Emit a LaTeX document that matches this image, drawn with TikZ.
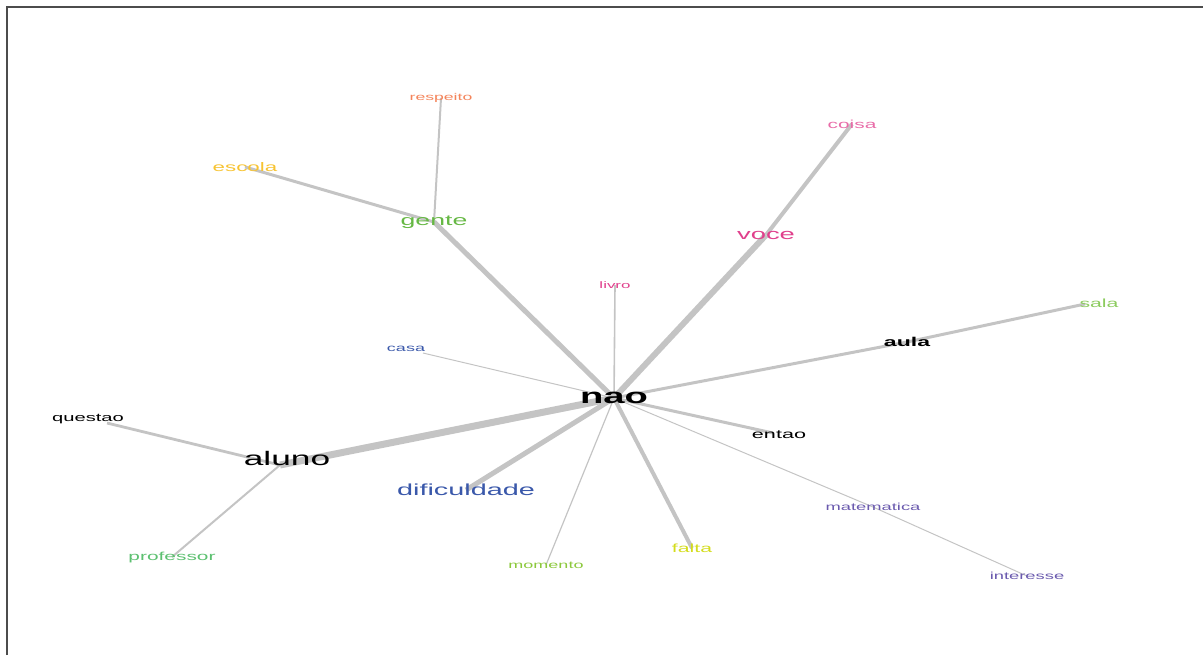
\documentclass[tikz,border=0pt]{standalone}
\usepackage{fontspec}
\setmainfont{Liberation Sans}
\usepackage{graphicx}
\usetikzlibrary{backgrounds}
\definecolor{edgegray}{HTML}{C4C4C4}
\definecolor{cOrange}{HTML}{F4845A}
\definecolor{cGold}{HTML}{F7C331}
\definecolor{cGreen}{HTML}{66B844}
\definecolor{cPink}{HTML}{E0408C}
\definecolor{cRose}{HTML}{E86CA8}
\definecolor{cLime}{HTML}{8CCB5E}
\definecolor{cBlue}{HTML}{3A58AA}
\definecolor{cPurple}{HTML}{6A5AAE}
\definecolor{cYellow}{HTML}{D4DC1C}
\definecolor{cOlive}{HTML}{8CC83C}
\definecolor{cMint}{HTML}{5CC070}
\newcommand{\wide}[1]{\scalebox{1.8}[1]{#1}}

\begin{document}
\begin{tikzpicture}[x=0.5pt,y=-0.5pt,every node/.style={inner sep=0pt},
  lbl/.style={font=\fontsize{#1}{#1}\selectfont},
  blbl/.style={font=\fontsize{#1}{#1}\selectfont\bfseries},
  edge/.style={draw=edgegray,line width=#1}]
\useasboundingbox (0,0) rectangle (1203,655);
\draw[line width=1pt,black!70] (7,655)--(7,7)--(1203,7);
\node[blbl=10.6] (nao) at (614,398) {\wide{nao}};
\node[lbl=4.7,text=cPink] (livro) at (615,285) {\wide{livro}};
\node[lbl=7.6,text=cPink] (voce) at (766,235) {\wide{voce}};
\node[lbl=5.8,text=cRose] (coisa) at (852,124) {\wide{coisa}};
\node[lbl=7.4,text=cGreen] (gente) at (434,222) {\wide{gente}};
\node[lbl=4.9,text=cOrange] (respeito) at (441,98) {\wide{respeito}};
\node[lbl=6.2,text=cGold] (escola) at (245,167) {\wide{escola}};
\node[lbl=5.9,text=cLime] (sala) at (1099,303) {\wide{sala}};
\node[blbl=6.4] (aula) at (907,342) {\wide{aula}};
\node[lbl=6] (entao) at (779,435) {\wide{entao}};
\node[lbl=5.1,text=cPurple] (matematica) at (873,507) {\wide{matematica}};
\node[lbl=5.1,text=cPurple] (interesse) at (1027,576) {\wide{interesse}};
\node[lbl=5.9,text=cYellow] (falta) at (692,548) {\wide{falta}};
\node[lbl=5,text=cOlive] (momento) at (546,565) {\wide{momento}};
\node[lbl=8,text=cBlue] (dificuldade) at (466,490) {\wide{dificuldade}};
\node[lbl=5,text=cBlue] (casa) at (406,349) {\wide{casa}};
\node[lbl=9.8] (aluno) at (287,458) {\wide{aluno}};
\node[lbl=5.6] (questao) at (88,419) {\wide{questao}};
\node[lbl=5.8,text=cMint] (professor) at (172,557) {\wide{professor}};
\begin{scope}[on background layer]
\draw[edge=3.5pt] (nao.center)--([shift={(-7,7)}]aluno.center);
\draw[edge=3pt] (nao.center)--(voce.center);\draw[edge=2pt] (voce.center)--(coisa.center);
\draw[edge=2.5pt] (nao.center)--(gente.center);\draw[edge=2.5pt] (nao.center)--(dificuldade.center);
\draw[edge=1.5pt] (gente.center)--(escola.center);\draw[edge=1pt] (gente.center)--(respeito.center);
\draw[edge=2pt] (nao.center)--(falta.center);\draw[edge=1.5pt] (nao.center)--(aula.center);
\draw[edge=1.5pt] (aula.center)--([shift={(-14,1)}]sala.center);\draw[edge=1.5pt] (nao.center)--([shift={(-6,-2)}]entao.center);
\draw[edge=0.8pt] (nao.center)--(livro.center);\draw[edge=0.6pt] (nao.center)--(momento.center);
\draw[edge=0.5pt] (nao.center)--([shift={(17,4)}]casa.center);
\draw[edge=0.5pt] (nao.center)--(matematica.center);\draw[edge=0.5pt] (matematica.center)--(interesse.center);
\draw[edge=1.4pt] ([shift={(-7,7)}]aluno.center)--([shift={(19,4)}]questao.center);
\draw[edge=1pt] ([shift={(-7,7)}]aluno.center)--(professor.center);
\end{scope}
\end{tikzpicture}
\end{document}
